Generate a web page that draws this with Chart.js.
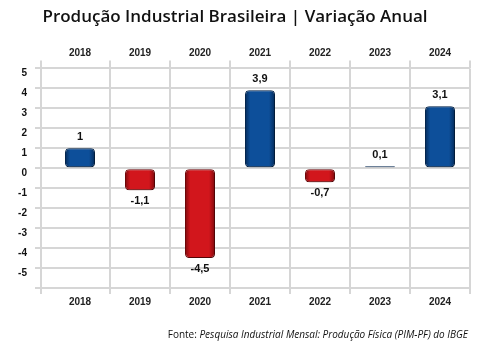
<!DOCTYPE html>
<html>
<head>
<meta charset="utf-8">
<script src="https://cdn.jsdelivr.net/npm/chart.js@4.4.1/dist/chart.umd.min.js"></script>
<style>
  html, body { margin: 0; padding: 0; background: #fff; }
  #wrap { position: relative; width: 485px; height: 353px; }
  #fonte {
    position: absolute; right: 17px; top: 327px;
    font-family: "Open Sans", sans-serif; font-size: 10px; color: #111;
    white-space: nowrap;
  }
  #fonte i { font-style: italic; }
</style>
</head>
<body>
<div id="wrap">
  <canvas id="chart" width="485" height="353"></canvas>
  <div id="fonte">Fonte: <i>Pesquisa Industrial Mensal: Produção Física (PIM-PF) do IBGE</i></div>
</div>
<script>
var years = ['2018', '2019', '2020', '2021', '2022', '2023', '2024'];
var variacao = [1, -1.1, -4.5, 3.9, -0.7, 0.1, 3.1];
var yTicks = [-6, -5, -4, -3, -2, -1, 0, 1, 2, 3, 4, 5];

var BLUE = ['#042a58', '#0d4f9a'];
var RED = ['#7e0a0d', '#d2161c'];

var barFill = function (ctx) {
  var chart = ctx.chart;
  var v = ctx.raw;
  var c = v < 0 ? RED : BLUE;
  var x = chart.scales.x;
  var cx = x ? x.getPixelForValue(ctx.dataIndex) : NaN;
  if (!isFinite(cx)) return c[1];
  var g = chart.ctx.createLinearGradient(cx - 15, 0, cx + 15, 0);
  g.addColorStop(0, c[0]);
  g.addColorStop(0.18, c[1]);
  g.addColorStop(0.8, c[1]);
  g.addColorStop(1, c[0]);
  return g;
};

var fmt = function (v) { return String(v).replace('.', ','); };

var shadowPlugin = {
  id: 'shadow',
  beforeDatasetsDraw: function (chart) {
    var c = chart.ctx;
    c.save();
    c.shadowColor = 'rgba(0,0,0,0.35)';
    c.shadowBlur = 4;
    c.shadowOffsetX = 2;
    c.shadowOffsetY = 2;
  },
  afterDatasetsDraw: function (chart) {
    chart.ctx.restore();
  }
};

var extraPlugin = {
  id: 'extra',
  afterDraw: function (chart) {
    var c = chart.ctx, a = chart.chartArea;
    c.save();
    // left border line a little outside the plot
    c.strokeStyle = '#d6d6d6';
    c.lineWidth = 2;
    c.beginPath();
    c.moveTo(a.left - 9, a.top - 8);
    c.lineTo(a.left - 9, a.bottom + 6);
    c.stroke();

    var meta = chart.getDatasetMeta(0);
    c.font = 'bold 11px "Liberation Sans", Arial, sans-serif';
    c.fillStyle = '#111';
    c.textAlign = 'center';
    c.textBaseline = 'middle';
    meta.data.forEach(function (bar, i) {
      var v = variacao[i];
      var y = v < 0 ? bar.y + 11 : bar.y - 11;
      c.fillText(fmt(v), bar.x, y);
    });
    c.restore();
  }
};

var gridCol = function (ctx) { return ctx.index === 0 ? 'rgba(0,0,0,0)' : '#d6d6d6'; };
var tickFont = { family: '"Liberation Sans", Arial, sans-serif', size: 10, weight: 'bold' };

new Chart(document.getElementById('chart'), {
  type: 'bar',
  data: {
    labels: years,
    datasets: [{
      data: variacao,
      backgroundColor: barFill,
      borderColor: function (ctx) { return ctx.raw < 0 ? '#700709' : '#03264f'; },
      borderWidth: 1,
      borderRadius: 4,
      borderSkipped: false,
      barPercentage: 0.5,
      categoryPercentage: 1
    }]
  },
  options: {
    responsive: false,
    animation: false,
    layout: { padding: { left: 0, right: 15, top: 0, bottom: 47 } },
    plugins: {
      legend: { display: false },
      tooltip: { enabled: false },
      title: {
        display: true,
        text: 'Produção Industrial Brasileira | Variação Anual',
        color: '#111',
        font: { family: '"Open Sans", sans-serif', size: 17, weight: '600' },
        padding: { top: 7, bottom: 19 }
      }
    },
    scales: {
      x: {
        position: 'bottom',
        offset: true,
        grid: { offset: true, color: gridCol, lineWidth: 2, tickLength: 6, drawTicks: true },
        border: { display: false },
        ticks: { color: '#222', font: tickFont, padding: 2 },
        afterFit: function (s) { s.height = 18; }
      },
      x2: {
        position: 'top',
        type: 'category',
        labels: years,
        offset: true,
        grid: { offset: true, color: gridCol, lineWidth: 2, tickLength: 8, drawOnChartArea: false },
        border: { display: false },
        ticks: { color: '#222', font: tickFont, padding: 1 },
        afterFit: function (s) { s.height = 22; }
      },
      y: {
        min: yTicks[0],
        max: yTicks[yTicks.length - 1],
        afterBuildTicks: function (s) { s.ticks = yTicks.map(function (v) { return { value: v }; }); },
        grid: { color: '#d6d6d6', lineWidth: 2, tickLength: 15 },
        border: { display: false },
        ticks: {
          color: '#111',
          font: tickFont,
          padding: 8,
          labelOffset: 5,
          callback: function (v) { return v === -6 ? '' : v; }
        },
        afterFit: function (s) { s.width = 50; }
      }
    }
  },
  plugins: [shadowPlugin, extraPlugin]
});
</script>
</body>
</html>
